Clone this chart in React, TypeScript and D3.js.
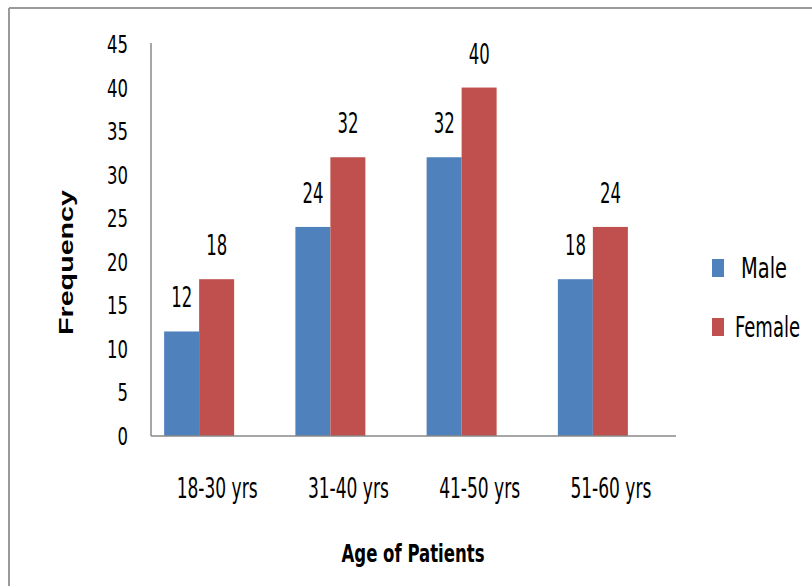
import React from "react";
import * as d3 from "d3";

const categories = ["18-30 yrs", "31-40 yrs", "41-50 yrs", "51-60 yrs"];
const seriesNames = ["Male", "Female"];
const maleValues = [12, 24, 32, 18];
const femaleValues = [18, 32, 40, 24];
const yTicks = [0, 5, 10, 15, 20, 25, 30, 35, 40, 45];
const colors = ["#4F81BD", "#C0504D"];

const W = 812;
const H = 586;
const FONT = "'Liberation Sans Narrow', 'DejaVu Sans Condensed', 'Liberation Sans', sans-serif";

export default function App() {
  const x = d3
    .scaleBand<string>()
    .domain(categories)
    .range([151, 676])
    .paddingInner(0.2)
    .paddingOuter(0.1);
  // third slot is an empty (unused) series slot, as in the original layout
  const inner = d3
    .scaleBand<string>()
    .domain([...seriesNames, "_empty"])
    .range([0, x.bandwidth()]);
  const y = d3.scaleLinear().domain([0, 45]).range([436, 44]);
  const series = [maleValues, femaleValues];

  return (
    <svg
      width={W}
      height={H}
      style={{ position: "absolute", left: 0, top: 0, background: "#fff" }}
    >
      <rect x={0} y={0} width={W} height={H} fill="#fff" />
      {/* frame */}
      <line x1={9} y1={8} x2={W} y2={8} stroke="#9a9a9a" strokeWidth={2} />
      <line x1={9} y1={8} x2={9} y2={H} stroke="#9a9a9a" strokeWidth={2} />

      {/* bars */}
      {series.map((vals, si) =>
        vals.map((v, i) => {
          const bx = (x(categories[i]) as number) + (inner(seriesNames[si]) as number);
          return (
            <rect
              key={`b-${si}-${i}`}
              x={bx}
              y={y(v)}
              width={inner.bandwidth()}
              height={y(0) - y(v)}
              fill={colors[si]}
            />
          );
        })
      )}

      {/* value labels */}
      {series.map((vals, si) =>
        vals.map((v, i) => {
          const cx =
            (x(categories[i]) as number) +
            (inner(seriesNames[si]) as number) +
            inner.bandwidth() / 2;
          const s = String(v);
          return (
            <text
              key={`l-${si}-${i}`}
              x={cx}
              y={y(v) - 24}
              textAnchor="middle"
              fontFamily={FONT}
              fontSize={28}
              textLength={s.length * 10.5}
              lengthAdjust="spacingAndGlyphs"
              fill="#000"
            >
              {s}
            </text>
          );
        })
      )}

      {/* axes */}
      <line x1={151} y1={y(45) - 1} x2={151} y2={y(0)} stroke="#888" strokeWidth={1.5} />
      <line x1={151} y1={y(0)} x2={676} y2={y(0)} stroke="#888" strokeWidth={1.5} />

      {/* y tick labels */}
      {yTicks.map((t) => {
        const s = String(t);
        return (
          <text
            key={`yt-${t}`}
            x={128}
            y={y(t) + 9}
            textAnchor="end"
            fontFamily={FONT}
            fontSize={25}
            textLength={s.length * 10.5}
            lengthAdjust="spacingAndGlyphs"
            fill="#000"
          >
            {s}
          </text>
        );
      })}

      {/* x tick labels */}
      {categories.map((c) => (
        <text
          key={`xt-${c}`}
          x={(x(c) as number) + x.bandwidth() / 2 + 0.5}
          y={498}
          textAnchor="middle"
          fontFamily={FONT}
          fontSize={28}
          textLength={81}
          lengthAdjust="spacingAndGlyphs"
          fill="#000"
        >
          {c}
        </text>
      ))}

      {/* axis titles */}
      <text
        x={413}
        y={562}
        textAnchor="middle"
        fontFamily={FONT}
        fontWeight="bold"
        fontSize={25}
        textLength={143}
        lengthAdjust="spacingAndGlyphs"
        fill="#000"
      >
        Age of Patients
      </text>
      <text
        transform={`translate(73, 262.5) rotate(-90)`}
        textAnchor="middle"
        fontFamily="'Liberation Sans', Arial, sans-serif"
        fontWeight="bold"
        fontSize={21}
        textLength={145}
        lengthAdjust="spacingAndGlyphs"
        fill="#000"
      >
        Frequency
      </text>

      {/* legend */}
      {seriesNames.map((n, i) => {
        const cy = [268, 327][i];
        const tx = [741, 735][i];
        const tl = [46, 65][i];
        return (
          <g key={`lg-${n}`}>
            <rect x={712} y={cy - 9} width={12} height={18} fill={colors[i]} />
            <text
              transform={`translate(${tx}, ${cy + 10}) scale(1, 1.3)`}
              fontFamily={FONT}
              fontSize={21.5}
              textLength={tl}
              lengthAdjust="spacingAndGlyphs"
              fill="#000"
            >
              {n}
            </text>
          </g>
        );
      })}
    </svg>
  );
}
